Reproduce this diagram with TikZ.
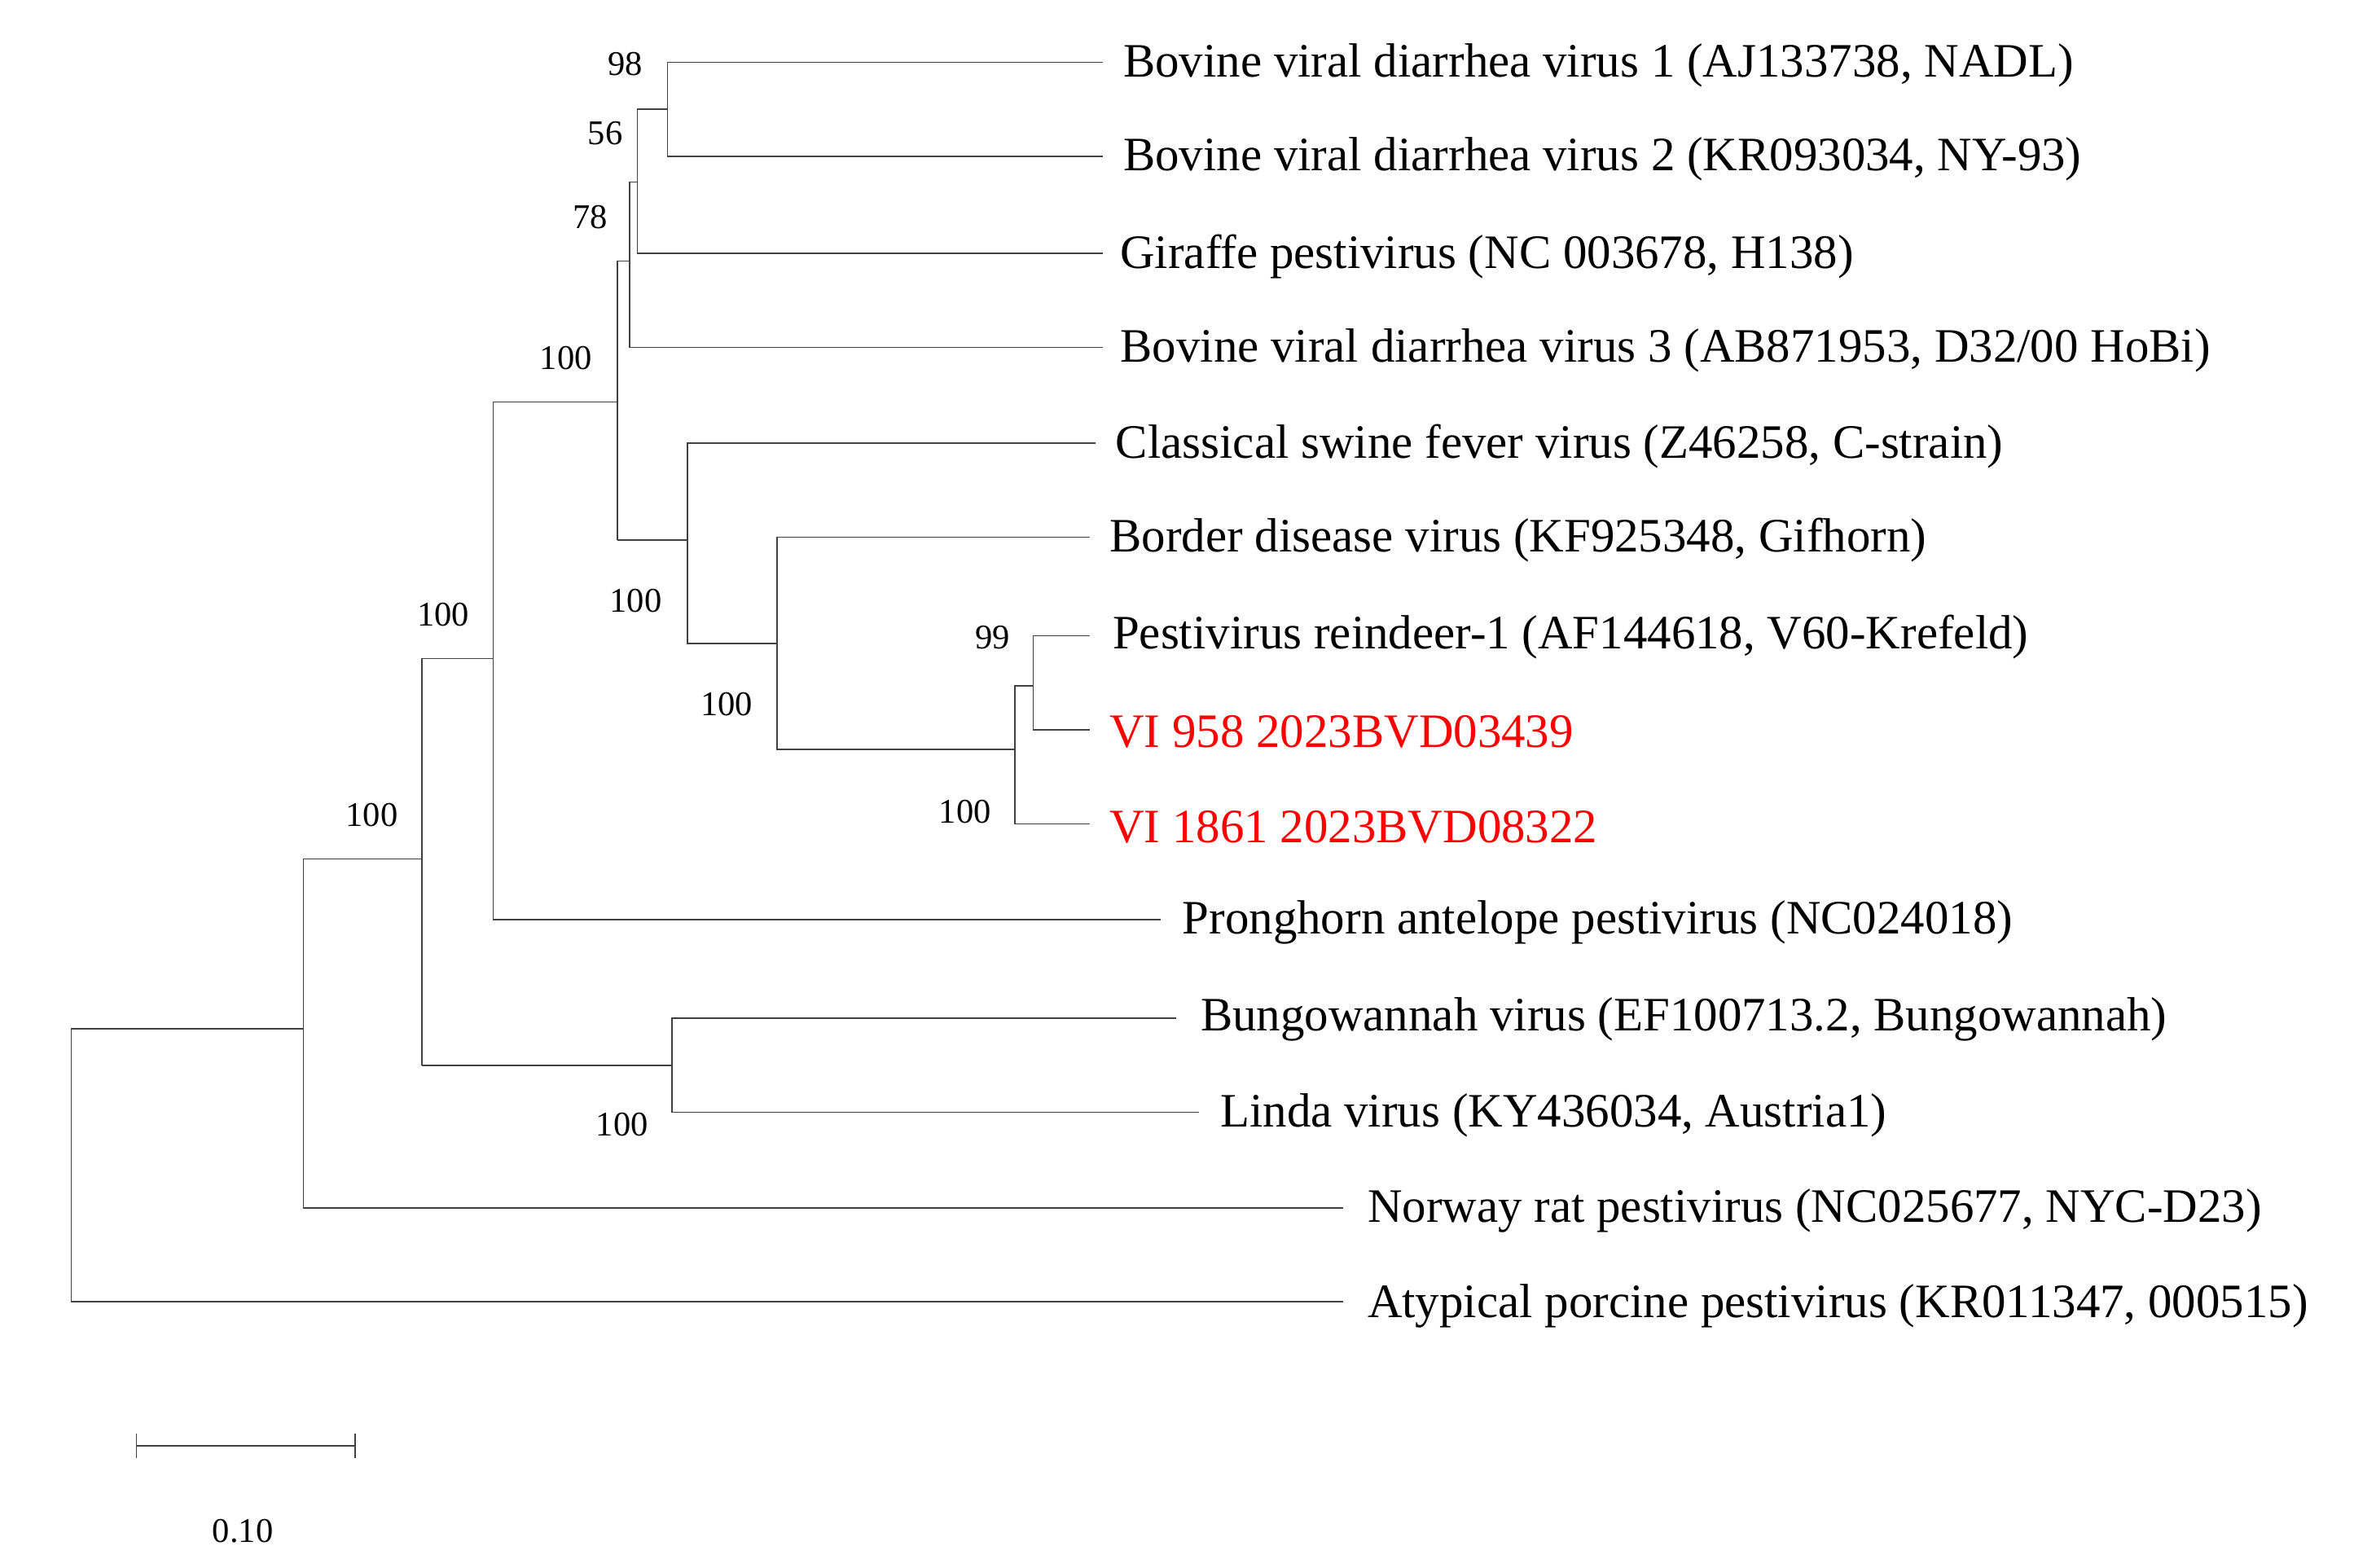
\documentclass[tikz,border=0pt]{standalone}
\usepackage{fontspec}
\setmainfont{Liberation Serif}
\begin{document}
\begin{tikzpicture}[x=0.02cm,y=-0.02cm,
  br/.style={line width=0.5pt,black!75},
  lab/.style={anchor=west,inner sep=0pt,font=\fontsize{18}{20}\selectfont},
  red/.style={text=red},
  bs/.style={inner sep=0pt,font=\fontsize{13}{15}\selectfont}]
\useasboundingbox (0,0) rectangle (1560,1033);
% leaves
\coordinate (t1) at (727,41);  \node[lab] (l1) at (740,43) {Bovine viral diarrhea virus 1 (AJ133738, NADL)};
\coordinate (t2) at (727,103); \node[lab] (l2) at (740,105) {Bovine viral diarrhea virus 2 (KR093034, NY-93)};
\coordinate (t3) at (727,167); \node[lab] (l3) at (738,169) {Giraffe pestivirus (NC 003678, H138)};
\coordinate (t4) at (727,229); \node[lab] (l4) at (738,231) {Bovine viral diarrhea virus 3 (AB871953, D32/00 HoBi)};
\coordinate (t5) at (722,292); \node[lab] (l5) at (735,294) {Classical swine fever virus (Z46258, C-strain)};
\coordinate (t6) at (718,354); \node[lab] (l6) at (731,356) {Border disease virus (KF925348, Gifhorn)};
\coordinate (t7) at (718,419); \node[lab] (l7) at (733,420) {Pestivirus reindeer-1 (AF144618, V60-Krefeld)};
\coordinate (t8) at (718,481); \node[lab,red] (l8) at (731,482) {VI 958 2023BVD03439};
\coordinate (t9) at (718,543); \node[lab,red] (l9) at (731,545) {VI 1861 2023BVD08322};
\coordinate (t10) at (765,606); \node[lab] (l10) at (779,608) {Pronghorn antelope pestivirus (NC024018)};
\coordinate (t11) at (775,671); \node[lab] (l11) at (791,672) {Bungowannah virus (EF100713.2, Bungowannah)};
\coordinate (t12) at (790,733); \node[lab] (l12) at (804,735) {Linda virus (KY436034, Austria1)};
\coordinate (t13) at (885,796); \node[lab] (l13) at (901,798) {Norway rat pestivirus (NC025677, NYC-D23)};
\coordinate (t14) at (885,858); \node[lab] (l14) at (901,861) {Atypical porcine pestivirus (KR011347, 000515)};
% branches
\draw[br] (t14) -| (47,678) -- (200,678);
\draw[br] (t13) -| (200,566) -- (278,566);
\draw[br] (278,702) |- (278,434) -- (325,434);
\draw[br] (278,702) -- (443,702);
\draw[br] (t11) -| (443,733) -- (t12);
\draw[br] (t10) -| (325,265) -- (407,265);
\draw[br] (407,356) -- (407,172) -- (415,172);
\draw[br] (t4) -| (415,120) -- (420,120);
\draw[br] (t3) -| (420,72) -- (440,72);
\draw[br] (t1) -| (440,103) -- (t2);
\draw[br] (407,356) -- (453,356);
\draw[br] (t5) -| (453,424) -- (512,424);
\draw[br] (t6) -| (512,494) -- (669,494);
\draw[br] (t9) -| (669,452) -- (681,452);
\draw[br] (t7) -| (681,481) -- (t8);
% bootstrap
\node[bs] (b1) at (412,42) {98};
\node[bs] (b2) at (399,88) {56};
\node[bs] (b3) at (389,143) {78};
\node[bs] (b4) at (373,236) {100};
\node[bs] (b5) at (419,396) {100};
\node[bs] (b6) at (479,464) {100};
\node[bs] (b7) at (654,420) {99};
\node[bs] (b8) at (636,535) {100};
\node[bs] (b9) at (292,405) {100};
\node[bs] (b10) at (245,537) {100};
\node[bs] (b11) at (410,741) {100};
% scale
\coordinate (s1) at (90,953); \coordinate (s2) at (234,953);
\draw[br] (s1) -- (s2);
\draw[br] (90,945) -- (90,961); \draw[br] (234,945) -- (234,961);
\node[bs] (sc) at (160,1009) {0.10};
\end{tikzpicture}
\end{document}
